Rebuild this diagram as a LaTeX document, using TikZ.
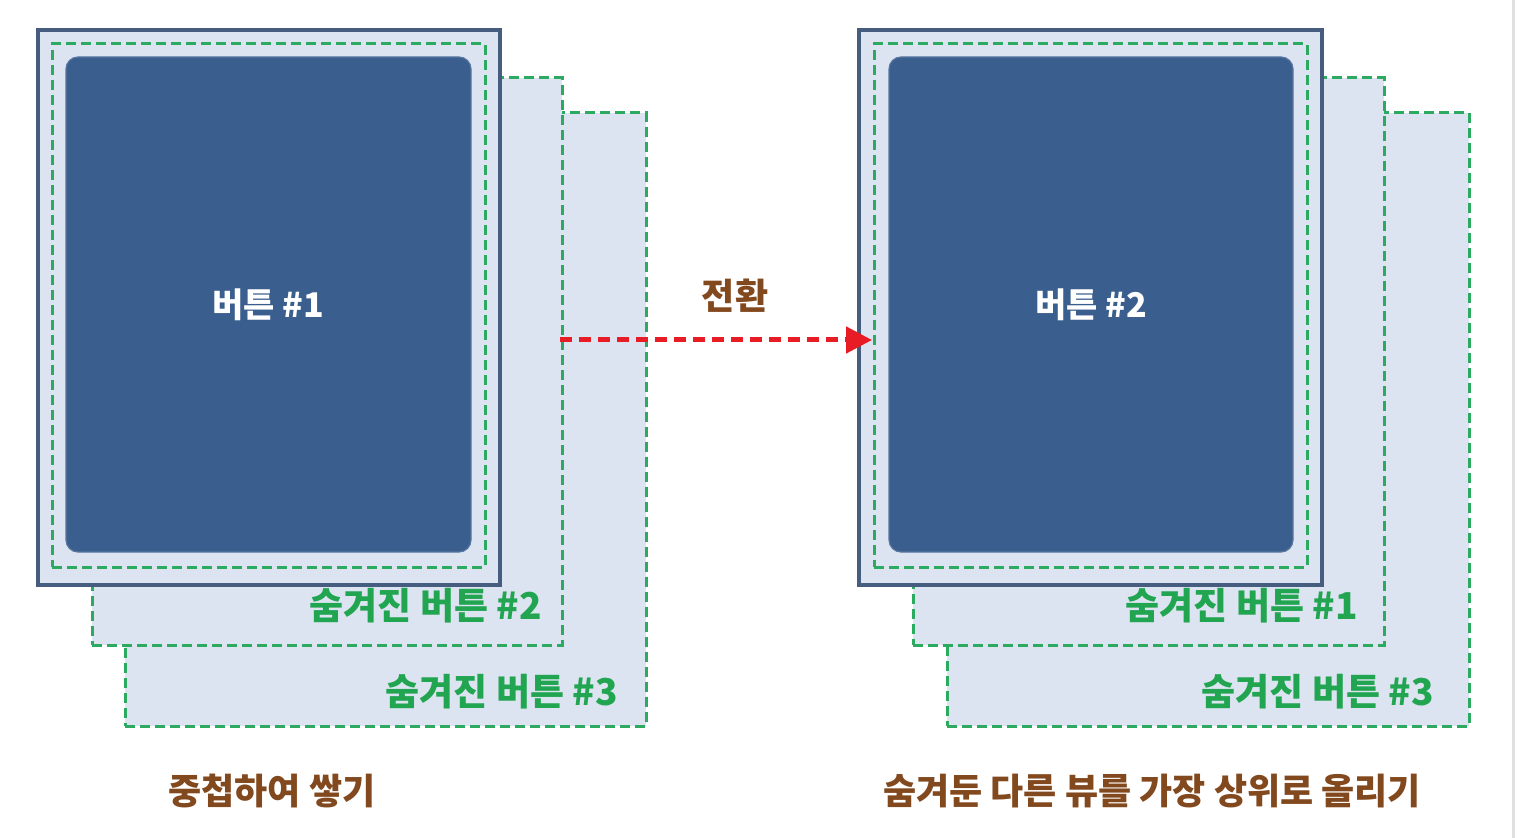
\documentclass[tikz,border=0pt]{standalone}
\usepackage{fontspec}
\setmainfont{Noto Sans CJK KR}
\usepackage{tikz}
\usetikzlibrary{arrows.meta}

\definecolor{frameblue}{RGB}{70,93,128}
\definecolor{paleblue}{RGB}{220,228,241}
\definecolor{btnblue}{RGB}{58,94,142}
\definecolor{dashgreen}{RGB}{44,170,96}
\definecolor{txtgreen}{RGB}{34,165,80}
\definecolor{txtbrown}{RGB}{130,72,30}
\definecolor{arrowred}{RGB}{232,28,36}

\tikzset{
  card/.style={draw=dashgreen, fill=paleblue, line width=1.5pt, dash pattern={on 5pt off 2.5pt}, inner sep=0pt},
  frame/.style={draw=frameblue, fill=paleblue, line width=2pt, inner sep=0pt},
  inner/.style={draw=dashgreen, line width=1.5pt, dash pattern={on 5pt off 2.5pt}, inner sep=0pt},
  button/.style={draw=btnblue!85!white, fill=btnblue, line width=0.6pt, rounded corners=6pt, inner sep=0pt, text=white, font=\bfseries\fontsize{17}{19}\selectfont},
  hidden/.style={anchor=east, text=txtgreen, font=\bfseries\fontsize{18.5}{20}\selectfont},
  caption/.style={text=txtbrown, font=\bfseries\fontsize{18}{20}\selectfont}
}

\begin{document}
\begin{tikzpicture}[x=0.5pt,y=-0.5pt]
    \useasboundingbox (0,0) rectangle (1518,838);

    % left stack
    \node[card, minimum width=260.5pt, minimum height=306.5pt] (card3L) at (385.5,419.5) {};
    \node[card, minimum width=235pt, minimum height=283.5pt] (card2L) at (327,361.5) {};
    \node[frame, minimum width=231pt, minimum height=277.5pt] (frameL) at (269,307.5) {};
    \node[inner, minimum width=216.5pt, minimum height=261.5pt] (innerL) at (268.5,305.5) {};
    \node[button, minimum width=202.5pt, minimum height=247.5pt] (btnL) at (268.5,304.5) {버튼 \#1};
    \node[hidden] (hid2L) at (549,606) {숨겨진 버튼 \#2};
    \node[hidden] (hid3L) at (625,692) {숨겨진 버튼 \#3};

    % right stack
    \node[card, minimum width=261pt, minimum height=306.5pt] (card3R) at (1208,419.5) {};
    \node[card, minimum width=235.5pt, minimum height=283.5pt] (card2R) at (1148.5,361.5) {};
    \node[frame, minimum width=231.5pt, minimum height=277.5pt] (frameR) at (1090.5,307.5) {};
    \node[inner, minimum width=216.5pt, minimum height=261.5pt] (innerR) at (1090.5,305.5) {};
    \node[button, minimum width=202pt, minimum height=247.5pt] (btnR) at (1091,304.5) {버튼 \#2};
    \node[hidden] (hid1R) at (1365,606) {숨겨진 버튼 \#1};
    \node[hidden] (hid3R) at (1441,692) {숨겨진 버튼 \#3};

    % switch arrow
    \coordinate (from) at (560,340);
    \coordinate (to) at (872,340);
    \draw[arrowred, line width=2.5pt, dash pattern={on 6pt off 3.5pt}, -{Triangle[length=13pt,width=13pt]}] (from) -- (to);
    \node[caption] (switch) at (735,296) {전환};

    % captions
    \node[caption] (capL) at (272,791) {중첩하여 쌓기};
    \node[caption] (capR) at (1152,791) {숨겨둔 다른 뷰를 가장 상위로 올리기};

    \draw[black!12, line width=1.5pt] (1513,0) -- (1513,838);
\end{tikzpicture}
\end{document}
